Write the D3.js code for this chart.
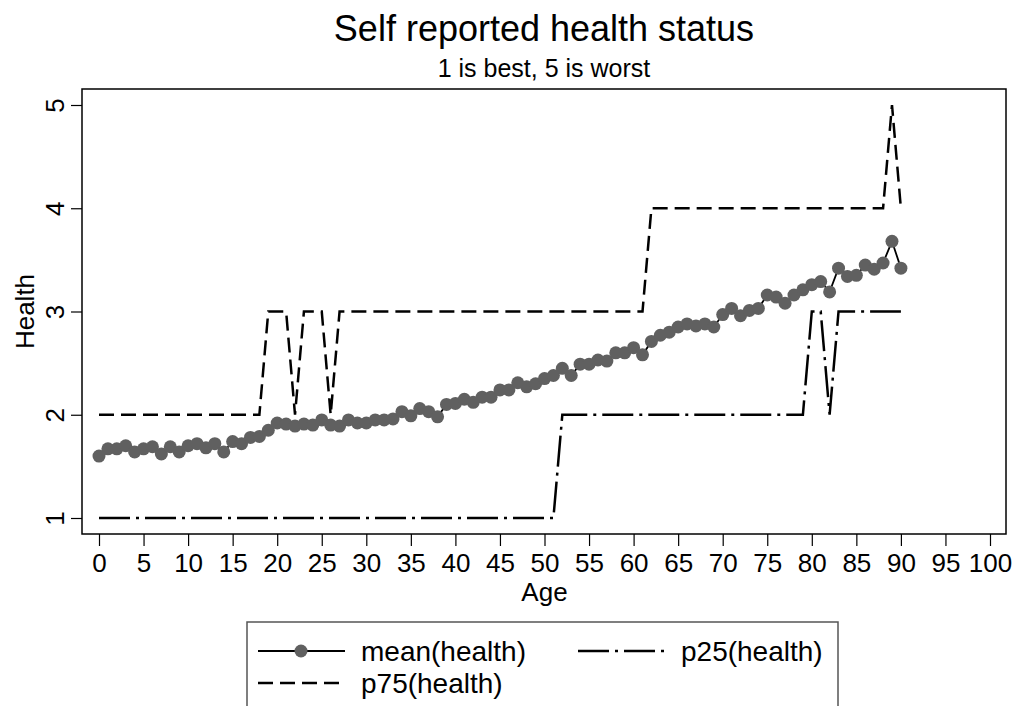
<!DOCTYPE html>
<html>
<head>
<meta charset="utf-8">
<script src="https://cdn.jsdelivr.net/npm/d3@7"></script>
<style>
  body { margin: 0; background: #fff; }
  svg { display: block; font-family: "Liberation Sans", Arial, sans-serif; }
</style>
</head>
<body>
<div id="chart"></div>
<script>
// Data, one value per age 0..90
var ages = d3.range(0, 91);

var meanHealth = [
  1.60, 1.67, 1.67, 1.70, 1.64, 1.67, 1.69, 1.62, 1.69, 1.64,
  1.70, 1.72, 1.68, 1.72, 1.64, 1.74, 1.72, 1.78, 1.79, 1.85,
  1.92, 1.91, 1.89, 1.91, 1.90, 1.95, 1.90, 1.89, 1.95, 1.92,
  1.92, 1.95, 1.95, 1.96, 2.03, 1.99, 2.06, 2.03, 1.98, 2.10,
  2.11, 2.15, 2.12, 2.17, 2.17, 2.24, 2.24, 2.31, 2.27, 2.30,
  2.35, 2.38, 2.45, 2.38, 2.49, 2.49, 2.53, 2.52, 2.60, 2.60,
  2.65, 2.58, 2.71, 2.77, 2.80, 2.85, 2.88, 2.86, 2.88, 2.85,
  2.97, 3.03, 2.96, 3.01, 3.03, 3.16, 3.14, 3.08, 3.16, 3.21,
  3.26, 3.29, 3.19, 3.42, 3.34, 3.35, 3.45, 3.41, 3.47, 3.68,
  3.42
];

var p25Health = [
  1, 1, 1, 1, 1, 1, 1, 1, 1, 1,
  1, 1, 1, 1, 1, 1, 1, 1, 1, 1,
  1, 1, 1, 1, 1, 1, 1, 1, 1, 1,
  1, 1, 1, 1, 1, 1, 1, 1, 1, 1,
  1, 1, 1, 1, 1, 1, 1, 1, 1, 1,
  1, 1, 2, 2, 2, 2, 2, 2, 2, 2,
  2, 2, 2, 2, 2, 2, 2, 2, 2, 2,
  2, 2, 2, 2, 2, 2, 2, 2, 2, 2,
  3, 3, 2, 3, 3, 3, 3, 3, 3, 3,
  3
];

var p75Health = [
  2, 2, 2, 2, 2, 2, 2, 2, 2, 2,
  2, 2, 2, 2, 2, 2, 2, 2, 2, 3,
  3, 3, 2, 3, 3, 3, 2, 3, 3, 3,
  3, 3, 3, 3, 3, 3, 3, 3, 3, 3,
  3, 3, 3, 3, 3, 3, 3, 3, 3, 3,
  3, 3, 3, 3, 3, 3, 3, 3, 3, 3,
  3, 3, 4, 4, 4, 4, 4, 4, 4, 4,
  4, 4, 4, 4, 4, 4, 4, 4, 4, 4,
  4, 4, 4, 4, 4, 4, 4, 4, 4, 5,
  4
];

var xTicks = [0, 5, 10, 15, 20, 25, 30, 35, 40, 45, 50, 55, 60, 65, 70, 75, 80, 85, 90, 95, 100];
var yTicks = [1, 2, 3, 4, 5];

var legendLabels = ['mean(health)', 'p25(health)', 'p75(health)'];

// Layout
var width = 1014, height = 706;
var plot = { left: 82, right: 1006, top: 89, bottom: 534 };
var fontFamily = '"Liberation Sans", Arial, sans-serif';
var labelSize = 26;
var legendSize = 28;

var markerColor = '#606060';
var dashP75 = '15,7';
var dashP25 = '31,6,3,6';

var svg = d3.select('#chart').append('svg')
    .attr('width', width)
    .attr('height', height);

var x = d3.scaleLinear().domain([0, 100]).range([99, 990]);
var y = d3.scaleLinear().domain([1, 5]).range([518, 105]);

// Plot region border
svg.append('rect')
    .attr('x', plot.left)
    .attr('y', plot.top)
    .attr('width', plot.right - plot.left)
    .attr('height', plot.bottom - plot.top)
    .attr('fill', 'none')
    .attr('stroke', '#000')
    .attr('stroke-width', 1.5);

// Axes
var xAxis = svg.append('g')
    .attr('transform', 'translate(0,' + plot.bottom + ')')
    .call(d3.axisBottom(x).tickValues(xTicks).tickSize(12).tickSizeOuter(0).tickPadding(8));
xAxis.select('.domain').remove();
xAxis.selectAll('text').attr('font-size', labelSize).attr('fill', '#000')
    .attr('font-family', fontFamily);
xAxis.selectAll('line').attr('stroke', '#000').attr('stroke-width', 1.2);

var yAxis = svg.append('g')
    .attr('transform', 'translate(' + plot.left + ',0)')
    .call(d3.axisLeft(y).tickValues(yTicks).tickSize(11).tickSizeOuter(0).tickFormat(d3.format('d')));
yAxis.select('.domain').remove();
yAxis.selectAll('line').attr('stroke', '#000').attr('stroke-width', 1.2);
yAxis.selectAll('text')
    .attr('font-size', labelSize).attr('fill', '#000')
    .attr('font-family', fontFamily)
    .attr('x', null).attr('dy', null)
    .attr('text-anchor', 'middle')
    .attr('transform', 'translate(-18,0) rotate(-90)');

// Axis titles
svg.append('text')
    .attr('x', (x(0) + x(100)) / 2)
    .attr('y', 601)
    .attr('text-anchor', 'middle')
    .attr('font-size', labelSize)
    .text('Age');

svg.append('text')
    .attr('transform', 'translate(34,' + ((plot.top + plot.bottom) / 2) + ') rotate(-90)')
    .attr('text-anchor', 'middle')
    .attr('font-size', labelSize)
    .text('Health');

// Titles
svg.append('text')
    .attr('x', (plot.left + plot.right) / 2)
    .attr('y', 41)
    .attr('text-anchor', 'middle')
    .attr('font-size', 36)
    .text('Self reported health status');

svg.append('text')
    .attr('x', (plot.left + plot.right) / 2)
    .attr('y', 77)
    .attr('text-anchor', 'middle')
    .attr('font-size', 25)
    .text('1 is best, 5 is worst');

// Series
function lineFor(values) {
  return d3.line()
    .x(function(d, i) { return x(ages[i]); })
    .y(function(d) { return y(d); })(values);
}

svg.append('path')
    .attr('d', lineFor(meanHealth))
    .attr('fill', 'none')
    .attr('stroke', '#000')
    .attr('stroke-width', 1.8);

svg.append('g').selectAll('circle')
    .data(meanHealth)
    .enter().append('circle')
      .attr('cx', function(d, i) { return x(ages[i]); })
      .attr('cy', function(d) { return y(d); })
      .attr('r', 6.5)
      .attr('fill', markerColor);

svg.append('path')
    .attr('d', lineFor(p25Health))
    .attr('fill', 'none')
    .attr('stroke', '#000')
    .attr('stroke-width', 2.5)
    .attr('stroke-dasharray', dashP25);

svg.append('path')
    .attr('d', lineFor(p75Health))
    .attr('fill', 'none')
    .attr('stroke', '#000')
    .attr('stroke-width', 2.5)
    .attr('stroke-dasharray', dashP75);

// Legend
var legend = svg.append('g');
legend.append('rect')
    .attr('x', 247).attr('y', 622)
    .attr('width', 591).attr('height', 110)
    .attr('fill', '#fff')
    .attr('stroke', '#555')
    .attr('stroke-width', 1.5);

var legendItems = [
  { label: legendLabels[0], kx: 258, ky: 651, dash: null, width: 1.8, marker: true },
  { label: legendLabels[1], kx: 578, ky: 651, dash: dashP25, width: 2.5, marker: false },
  { label: legendLabels[2], kx: 258, ky: 683, dash: dashP75, width: 2.5, marker: false }
];

legendItems.forEach(function(it) {
  legend.append('line')
      .attr('x1', it.kx).attr('x2', it.kx + 87)
      .attr('y1', it.ky).attr('y2', it.ky)
      .attr('stroke', '#000')
      .attr('stroke-width', it.width)
      .attr('stroke-dasharray', it.dash);
  if (it.marker)
    legend.append('circle')
        .attr('cx', it.kx + 43).attr('cy', it.ky)
        .attr('r', 6.5).attr('fill', markerColor);
  legend.append('text')
      .attr('x', it.kx + 103).attr('y', it.ky + 10)
      .attr('font-size', legendSize)
      .text(it.label);
});
</script>
</body>
</html>
